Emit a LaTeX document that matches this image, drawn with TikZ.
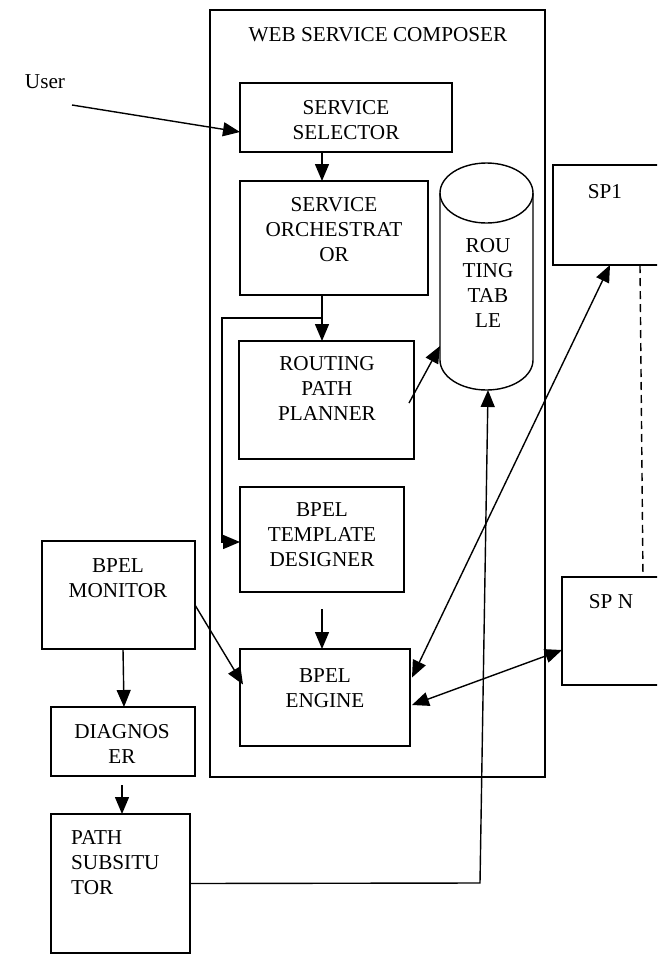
\documentclass[tikz,border=0pt]{standalone}
\usepackage{fontspec}
\setmainfont{Liberation Serif}
\usetikzlibrary{arrows.meta,calc}
\begin{document}
\begin{tikzpicture}[x=1pt,y=-1pt,
 box/.style={draw,line width=1.4pt,anchor=north west,inner sep=0pt,outer sep=0pt},
 txt/.style={align=center,font=\fontsize{21.2}{25}\selectfont,inner sep=0pt},
 ln/.style={line width=1.4pt},
 arr/.style={line width=1.4pt,-{Triangle[length=17pt,width=14pt]}},
 darr/.style={line width=1.4pt,{Triangle[length=17pt,width=14pt]}-{Triangle[length=17pt,width=14pt]}},
]
\useasboundingbox (0,0) rectangle (657,954);
\begin{scope}
\clip (0,0) rectangle (657,954);
% boxes
\node[box,minimum width=335pt,minimum height=767pt] (comp) at (210,10) {};
\node[box,minimum width=212pt,minimum height=69pt] (sel) at (240,83) {};
\node[box,minimum width=188pt,minimum height=114pt] (orch) at (240,181) {};
\node[box,minimum width=175pt,minimum height=118pt] (plan) at (239,341) {};
\node[box,minimum width=164pt,minimum height=105pt] (des) at (240,487) {};
\node[box,minimum width=170pt,minimum height=97pt] (eng) at (240,649) {};
\node[box,minimum width=153pt,minimum height=108pt] (mon) at (42,541) {};
\node[box,minimum width=144pt,minimum height=69pt] (diag) at (51,707) {};
\node[box,minimum width=139pt,minimum height=139pt] (ps) at (51,814) {};
\node[box,minimum width=120pt,minimum height=100pt] (sp1) at (553,165) {};
\node[box,minimum width=110pt,minimum height=108pt] (spn) at (562,577) {};
% cylinder
\node[anchor=north west,inner sep=0pt,outer sep=0pt,minimum width=93pt,minimum height=227pt] (cyl) at (440,163) {};
\draw[ln] (486.5,193) ellipse [x radius=46.5, y radius=30];
\draw[ln] (440,193) -- (440,360) arc[start angle=180, end angle=0, x radius=46.5, y radius=30] -- (533,193);
% texts
\node[txt] (title) at (378,35) {WEB SERVICE COMPOSER};
\node[txt] (user) at (45,82) {User};
\node[txt] (selt) at (346,120) {SERVICE\\SELECTOR};
\node[txt] (orcht) at (334,230) {SERVICE\\ORCHESTRAT\\OR};
\node[txt] (cylt) at (488,283) {ROU\\TING\\TAB\\LE};
\node[txt] (plant) at (327,388) {ROUTING\\PATH\\PLANNER};
\node[txt] (dest) at (322,535) {BPEL\\TEMPLATE\\DESIGNER};
\node[txt] (monta) at (118,578) {BPEL\\MONITOR};
\node[txt] (engt) at (325,688) {BPEL\\ENGINE};
\node[txt] (diagt) at (122,744) {DIAGNOS\\ER};
\node[txt,align=left,anchor=west] (pst) at (71,863) {PATH\\SUBSITU\\TOR};
\node[txt] (sp1t) at (605,192) {SP1};
\node[txt] (spnt) at (611,602) {SP N};
% connectors
\coordinate (u0) at (72,105);
\draw[arr] (u0) -- ([yshift=20pt]sel.south west);
\draw[arr] ([xshift=82pt]sel.south west) -- ([xshift=82pt]orch.north west);
\draw[arr] ([xshift=82pt]orch.south west) -- ([xshift=83pt]plan.north west);
\coordinate (br) at (322,318);
\coordinate (bl) at (222,318);
\draw[arr] (br) -- (bl) |- ([yshift=-2.5pt]des.west);
\draw[arr] ([xshift=-5pt,yshift=-3pt]plan.east) -- ([yshift=-183pt]cyl.north west);
\draw[arr] ([yshift=-17pt]des.south) -- ([xshift=82pt]eng.north west);
\draw[arr] ([yshift=-10pt]mon.east) -- ([xshift=3pt,yshift=13pt]eng.west);
\draw[arr] ([xshift=4.5pt]mon.south) -- ([xshift=1pt]diag.north);
\draw[arr] ([xshift=-1pt,yshift=-9pt]diag.south) -- ([xshift=1.5pt]ps.north);
\coordinate (pc) at (480,883);
\draw[arr] (ps.east) -- (pc) -- ([xshift=1.5pt]cyl.south);
\draw[darr] ([xshift=2pt,yshift=20pt]eng.east) -- ([xshift=57pt]sp1.south west);
\draw[darr] ([xshift=2pt,yshift=-7.5pt]eng.east) -- ([yshift=-19pt]spn.west);
\draw[ln,dash pattern=on 8pt off 5pt] ([xshift=87pt]sp1.south west) -- ([xshift=81pt]spn.north west);
\end{scope}
\end{tikzpicture}
\end{document}
